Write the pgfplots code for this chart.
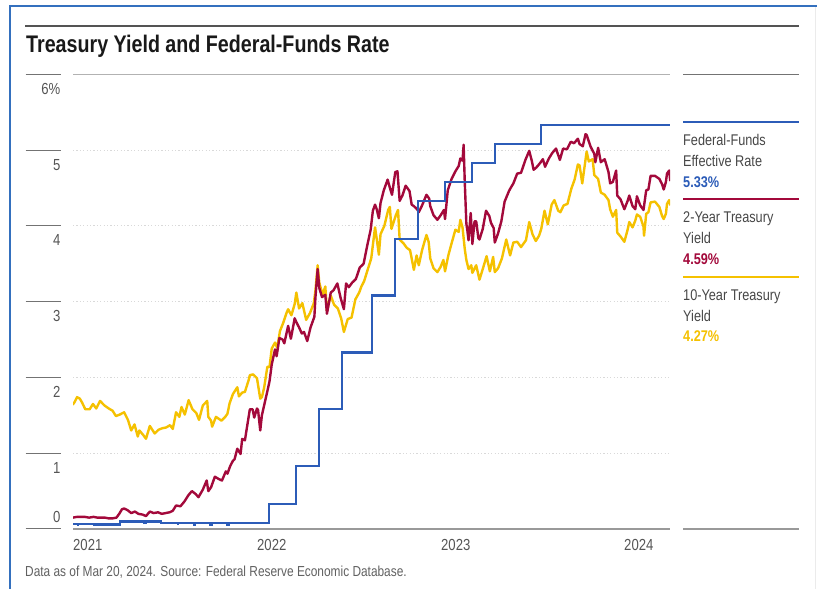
\documentclass[border=0pt]{standalone}
\usepackage{fontspec}
\setmainfont{Liberation Sans}[FakeStretch=0.82]
\usepackage{pgfplots}
\pgfplotsset{compat=1.18}
\definecolor{ffblue}{RGB}{44,92,184}
\definecolor{tcrim}{RGB}{163,9,59}
\definecolor{tgold}{RGB}{245,193,0}
\definecolor{frameblue}{RGB}{52,112,190}
\definecolor{txtgray}{RGB}{85,85,85}
\begin{document}
\begin{tikzpicture}
\useasboundingbox (0,0) rectangle (817pt,589pt);
\fill[white] (0,0) rectangle (817pt,589pt);
% frame
\draw[black!8, line width=1pt] (815.5pt,0) -- (815.5pt,583pt);
\draw[frameblue, line width=2pt] (10pt,0) -- (10pt,583.3pt) -- (817pt,583.3pt);
% top rule and title
\draw[black!67, line width=2pt] (25pt,563.3pt) -- (799pt,563.3pt);
\node[anchor=base west, inner sep=0pt, font=\fontsize{24}{28}\selectfont\bfseries, text=black!90] at (26pt,536pt) {Treasury Yield and Federal-Funds Rate};
% left tick rules
\foreach \v in {0,...,6}{
  \pgfmathsetmacro{\yy}{60+\v*75.78}
  \draw[black!55, line width=1pt] (25.7pt,\yy pt) -- (60.7pt,\yy pt);
}
\begin{axis}[
  at={(73pt,60pt)}, anchor=south west,
  scale only axis, width=597pt, height=454.7pt,
  xmin=81.5, xmax=1173.5, ymin=0, ymax=6,
  axis line style={draw=none},
  tick style={draw=none},
  major tick length=0pt,
  ytick={0,1,2,3,4,5,6},
  yticklabels={\raisebox{26pt}{0},1,2,3,4,5,6\%},
  xtick={81.5,418.05,754.6,1089.4},
  xticklabels={2021,2022,2023,2024},
  ymajorgrids,
  grid style={line width=0.9pt, black!15, dash pattern=on 1.2pt off 2.2pt},
  yticklabel style={anchor=base east, inner sep=0pt, xshift=-12.5pt, yshift=-20pt, font=\fontsize{16}{18}\selectfont, text=txtgray},
  xticklabel style={anchor=base west, inner sep=0pt, yshift=-22pt, font=\fontsize{16}{18}\selectfont, text=txtgray},
  /pgf/number format/assume math mode=true,
]
% 10-year
\addplot[tgold, line width=2.4pt, line join=round] coordinates {
(81,1.64)(84,1.67)(89,1.74)(94,1.72)(98,1.67)(104,1.58)(112,1.58)(118,1.65)(124,1.59)(131,1.69)(139,1.63)(147,1.59)(154,1.56)(160,1.49)(167,1.51)(175,1.54)(182,1.44)(188,1.30)(194,1.38)(200,1.22)(203,1.30)(210,1.24)(215,1.19)(222,1.36)(231,1.26)(238,1.31)(245,1.33)(252,1.34)(259,1.37)(264,1.32)(270,1.54)(276,1.48)(280,1.61)(286,1.51)(293,1.70)(300,1.58)(307,1.53)(312,1.44)(319,1.63)(327,1.69)(329,1.48)(334,1.43)(336,1.35)(343,1.48)(353,1.43)(360,1.48)(364,1.52)
(368,1.66)(374,1.78)(382,1.87)(385,1.75)(391,1.80)(396,1.81)(403,1.97)(405,2.03)(411,2.04)(418,1.99)(424,1.72)(427,1.74)(431,1.86)(437,2.14)(441,2.14)(445,2.38)(451,2.46)(455,2.39)(460,2.61)(466,2.72)(472,2.85)(475,2.90)(481,2.82)(487,2.97)(490,3.12)(495,2.91)(501,2.98)(508,2.76)(515,2.85)(522,2.98)(525,3.15)(529,3.48)(532,3.25)(538,3.09)(543,3.20)(546,2.88)(553,3.08)(559,2.96)(566,2.91)(572,2.78)(577,2.60)(584,2.77)(591,2.79)(598,3.03)(605,3.12)(609,3.20)(614,3.27)(620,3.41)(627,3.57)(634,3.98)(637,3.83)(641,3.62)(644,3.89)(651,4.00)(658,4.21)(661,4.25)(664,3.96)(672,4.14)(676,4.21)(679,3.82)(686,3.77)(692,3.71)(698,3.68)(705,3.42)(710,3.61)(714,3.48)(720,3.68)(728,3.88)
(732,3.79)(735,3.57)(741,3.44)(748,3.39)(754,3.46)(759,3.55)(762,3.40)(768,3.61)(774,3.77)(781,3.95)(787,3.92)(790,4.08)(794,3.98)(798,3.70)(801,3.55)(805,3.43)(810,3.48)(812,3.38)(819,3.48)(825,3.29)(831,3.43)(838,3.60)(844,3.40)(850,3.59)(853,3.39)(859,3.44)(866,3.57)(874,3.82)(881,3.61)(887,3.78)(894,3.79)(901,3.72)(910,3.81)(916,4.05)(922,3.89)(928,3.80)(934,3.87)(938,3.96)(944,4.20)(950,4.02)(957,4.28)(962,4.34)(969,4.20)(973,4.18)(979,4.27)(986,4.29)(993,4.49)(999,4.61)(1005,4.81)(1008,4.80)(1013,4.56)(1021,4.98)(1025,4.85)(1032,4.88)(1035,4.67)(1042,4.62)(1047,4.44)(1054,4.41)(1061,4.34)(1064,4.22)(1069,4.12)(1075,4.21)(1077,3.91)(1083,3.86)(1090,3.79)(1096,3.95)(1099,4.05)(1105,3.98)(1110,4.07)(1113,4.15)(1119,4.12)(1125,3.99)(1126,3.87)(1130,4.16)(1134,4.18)(1138,4.31)(1146,4.32)(1154,4.25)(1159,4.13)(1162,4.09)(1166,4.16)(1168,4.29)(1172,4.34)(1174,4.27)
};
% 2-year
\addplot[tcrim, line width=2.4pt, line join=round] coordinates {
(81,0.15)(89,0.16)(95,0.16)(103,0.16)(111,0.15)(119,0.16)(126,0.15)(133,0.15)(140,0.15)(147,0.14)(154,0.14)(161,0.15)(166,0.20)(171,0.26)(175,0.27)(181,0.25)(188,0.21)(195,0.23)(201,0.20)(209,0.19)(215,0.17)(222,0.23)(229,0.21)(237,0.22)(244,0.20)(251,0.21)(258,0.22)(264,0.24)(270,0.31)(278,0.30)(285,0.36)(293,0.45)(299,0.50)(306,0.46)(311,0.42)(319,0.52)(326,0.64)(329,0.50)(334,0.55)(341,0.69)(348,0.66)(354,0.64)(361,0.76)(364,0.73)
(369,0.83)(374,0.90)(377,0.92)(382,1.06)(388,0.99)(391,1.19)(396,1.17)(399,1.31)(405,1.58)(410,1.58)(413,1.47)(418,1.59)(420,1.57)(424,1.30)(427,1.50)(432,1.66)(438,1.85)(441,1.95)(445,2.17)(451,2.37)(454,2.28)(459,2.52)(465,2.50)(468,2.45)(475,2.68)(480,2.51)(487,2.78)(490,2.73)(495,2.66)(500,2.58)(504,2.60)(510,2.48)(516,2.66)(523,2.80)(525,3.06)(529,3.43)(532,3.18)(537,3.06)(543,3.09)(546,2.84)(553,3.12)(558,3.15)(565,3.24)(571,3.05)(577,2.90)(581,3.24)(586,3.19)(592,3.25)(599,3.30)(606,3.45)(613,3.50)(620,3.75)(626,3.95)(630,4.20)(634,4.28)(637,4.22)(641,4.10)(644,4.30)(650,4.47)(657,4.61)(662,4.48)(665,4.41)(671,4.71)(675,4.72)(679,4.33)(684,4.40)(690,4.53)(697,4.46)(701,4.28)(705,4.26)(711,4.22)(714,4.18)(720,4.27)(728,4.41)
(733,4.36)(735,4.26)(741,4.14)(748,4.08)(754,4.14)(760,4.21)(762,4.09)(767,4.47)(774,4.62)(781,4.72)(787,4.79)(790,4.89)(794,4.86)(796,5.07)(798,4.60)(801,4.03)(803,3.93)(805,3.81)(809,4.17)(812,3.76)(816,4.06)(819,4.06)(823,3.84)(825,3.82)(831,3.96)(837,4.20)(843,4.13)(846,4.04)(851,3.97)(853,3.78)(859,3.90)(865,4.06)(871,4.32)(879,4.46)(882,4.50)(887,4.56)(894,4.69)(901,4.70)(909,4.87)(916,4.99)(921,4.85)(924,4.74)(929,4.77)(936,4.83)(941,4.88)(945,4.78)(952,4.89)(958,4.96)(965,5.02)(972,4.87)(978,5.02)(985,5.01)(992,5.11)(998,5.09)(1005,5.15)(1008,5.08)(1014,5.05)(1019,5.21)(1021,5.20)(1028,5.05)(1035,4.95)(1037,4.84)(1042,5.03)(1047,4.84)(1054,4.88)(1061,4.71)(1064,4.56)(1069,4.58)(1075,4.73)(1077,4.40)(1083,4.35)(1090,4.22)(1096,4.33)(1099,4.40)(1105,4.26)(1110,4.22)(1113,4.39)(1119,4.27)(1125,4.21)(1130,4.47)(1134,4.48)(1138,4.66)(1146,4.66)(1154,4.62)(1159,4.55)(1162,4.48)(1166,4.58)(1168,4.69)(1172,4.73)(1174,4.59)
};
% fed funds
\addplot[ffblue, line width=2.2pt, const plot, line join=miter] coordinates {
(81,0.07)(90,0.05)(91,0.07)(120,0.05)(121,0.06)(150,0.05)(152,0.06)(167,0.10)(212,0.08)(214,0.10)(243,0.08)(273,0.07)(274,0.08)(303,0.06)(305,0.08)(333,0.06)(335,0.08)(364,0.05)(367,0.08)(440,0.33)(489,0.83)(531,1.58)(573,2.33)(629,3.08)(671,3.83)(713,4.33)(762,4.58)(811,4.83)(853,5.08)(937,5.33)(1174,5.33)
};
\end{axis}
% plot top and bottom rules
\draw[black!30, line width=1pt] (73pt,514.68pt) -- (670pt,514.68pt);
\draw[black!40, line width=1.4pt] (73pt,60pt) -- (670pt,60pt);
% legend
\draw[black!55, line width=1pt] (683pt,514.7pt) -- (799pt,514.7pt);
\draw[black!40, line width=1.4pt] (683pt,60pt) -- (799pt,60pt);
\draw[ffblue, line width=2.2pt] (683pt,466.7pt) -- (799pt,466.7pt);
\draw[tcrim, line width=2.2pt] (683pt,390pt) -- (799pt,390pt);
\draw[tgold, line width=2.2pt] (683pt,312pt) -- (799pt,312pt);
\begin{scope}[every node/.style={anchor=base west, inner sep=0pt, font=\fontsize{15.5}{18}\selectfont, text=black!72}]
\node at (683pt,443pt) {Federal-Funds};
\node at (683pt,422.3pt) {Effective Rate};
\node[text=ffblue, font=\fontsize{15.5}{18}\selectfont\bfseries] at (683pt,401.3pt) {5.33\%};
\node at (683pt,366.3pt) {2-Year Treasury};
\node at (683pt,345.5pt) {Yield};
\node[text=tcrim, font=\fontsize{15.5}{18}\selectfont\bfseries] at (683pt,324pt) {4.59\%};
\node at (683pt,288.3pt) {10-Year Treasury};
\node at (683pt,267.5pt) {Yield};
\node[text=tgold, font=\fontsize{15.5}{18}\selectfont\bfseries] at (683pt,247pt) {4.27\%};
\end{scope}
% footer
\node[anchor=base west, inner sep=0pt, font=\fontsize{14.5}{17}\selectfont, text=black!62] at (25pt,12pt) {Data as of Mar 20, 2024. Source: Federal Reserve Economic Database.};
\end{tikzpicture}
\end{document}
